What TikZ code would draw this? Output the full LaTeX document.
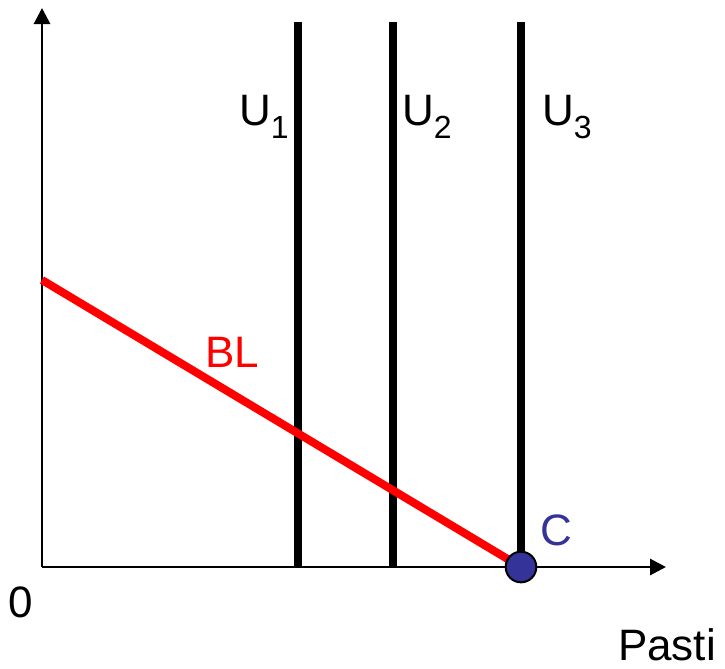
\documentclass[tikz,border=0pt]{standalone}
\usepackage{fontspec}
\setmainfont{Liberation Sans}
\usetikzlibrary{arrows.meta}
\definecolor{EcRed}{RGB}{255,0,0}
\definecolor{EcBlue}{RGB}{51,51,153}
\newcommand{\ecsub}[1]{\raisebox{-10pt}{\fontsize{24}{26}\selectfont #1}}
\tikzset{
  ec/axis/.style={-{Triangle[length=12pt,width=12pt]}, line width=2.2pt, draw=black},
  ec/utility/.style={line width=6pt, draw=black},
  ec/budget/.style={line width=6pt, draw=EcRed},
  ec/dot/.style={circle, draw=black, line width=1.5pt, fill=EcBlue, minimum size=23pt, inner sep=0pt},
  ec/label/.style={anchor=base west, inner sep=0pt, outer sep=0pt, font=\fontsize{33}{36}\selectfont}
}

\begin{document}
\begin{tikzpicture}[x=0.75pt,y=-0.75pt]
  \useasboundingbox (0,0) rectangle (725,668);
  \coordinate (o) at (42,567);
  \coordinate (ytop) at (42,8);
  \coordinate (xend) at (666,567);
  \coordinate (bltop) at (42,280);
  \coordinate (u1top) at (298,22);
  \coordinate (u1bot) at (298,567);
  \coordinate (u2top) at (393,22);
  \coordinate (u2bot) at (393,567);
  \coordinate (u3top) at (521,22);
  \coordinate (c) at (521,567);
  % axes
  \draw[ec/axis] (o) -- (ytop);
  \draw[ec/axis] (o) -- (xend);
  % indifference curves
  \draw[ec/utility] (u1bot) -- (u1top);
  \draw[ec/utility] (u2bot) -- (u2top);
  \draw[ec/utility] (c) -- (u3top);
  % budget line
  \draw[ec/budget] (bltop) -- (c);
  \node[ec/dot] (cdot) at (c) {};
  \node[ec/label] (u1lab) at (239,125) {U\ecsub{1}};
  \node[ec/label] (u2lab) at (402,125) {U\ecsub{2}};
  \node[ec/label] (u3lab) at (542,125) {U\ecsub{3}};
  \node[ec/label, text=EcRed] (bllab) at (205,367) {BL};
  \node[ec/label, text=EcBlue] (clab) at (540,545) {C};
  \node[ec/label] (zero) at (8,617) {0};
  \node[ec/label] (xlab) at (618,660) {Pasti};
\end{tikzpicture}
\end{document}
